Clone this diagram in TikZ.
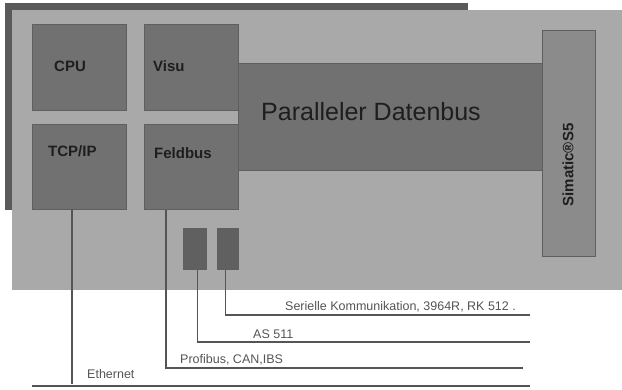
\documentclass[tikz,border=0pt]{standalone}
\usepackage{fontspec}
\setmainfont{Liberation Sans}
\definecolor{panel}{HTML}{A9A9A9}
\definecolor{shadowc}{HTML}{5A5A5A}
\definecolor{boxc}{HTML}{717171}
\definecolor{boxb}{HTML}{5F5F5F}
\definecolor{simc}{HTML}{8B8B8B}
\definecolor{smallc}{HTML}{606060}
\definecolor{linec}{HTML}{555555}
\definecolor{txtc}{HTML}{1E1E1E}
\begin{document}
\begin{tikzpicture}[x=1pt,y=-1pt,
  modbox/.style={draw=boxb,fill=boxc,line width=0.6pt,minimum width=94pt,minimum height=86pt,inner sep=0pt,anchor=north west},
  modtxt/.style={font=\fontsize{15}{17}\selectfont\bfseries,text=txtc,inner sep=0pt},
  conn/.style={draw=linec,line width=1.1pt},
  lbl/.style={font=\fontsize{12.5}{14}\selectfont,text=linec,inner sep=0pt,anchor=west}]
\useasboundingbox (0,0) rectangle (622,389);
\fill[white] (0,0) rectangle (622,389);
% shadow and panel
\fill[shadowc] (5,3) rectangle (468,210);
\fill[panel] (12,10) rectangle (622,290);
% modules
\node[modbox] (cpu) at (32,24) {};
\node[modbox] (visu) at (144,24) {};
\node[modbox,minimum height=85pt] (tcp) at (32,124) {};
\node[modbox,minimum height=85pt] (feld) at (144,124) {};
\node[draw=boxb,fill=boxc,line width=0.6pt,minimum width=304pt,minimum height=107pt,inner sep=0pt,anchor=north west] (bus) at (238,63) {};
\node[draw=boxb,fill=simc,line width=0.6pt,minimum width=53pt,minimum height=226pt,inner sep=0pt,anchor=north west] (sim) at (542,30) {};
\node[draw=boxb,fill=smallc,line width=0.6pt,minimum width=23pt,minimum height=41pt,inner sep=0pt,anchor=north west] (s1) at (183,228) {};
\node[draw=boxb,fill=smallc,line width=0.6pt,minimum width=21pt,minimum height=41pt,inner sep=0pt,anchor=north west] (s2) at (217,228) {};
% texts
\node[modtxt,anchor=west] (tcpu) at (54,66) {CPU};
\node[modtxt,anchor=west] (tvisu) at (153,66) {Visu};
\node[modtxt,anchor=west] (ttcp) at (48,151) {TCP/IP};
\node[modtxt,anchor=west] (tfeld) at (154,153) {Feldbus};
\node[font=\fontsize{25}{28}\selectfont,text=txtc,inner sep=0pt,anchor=west] (tbus) at (261,112) {Paralleler Datenbus};
\node[modtxt,rotate=90] (tsim) at (568,165) {Simatic®S5};
% connector end points
\coordinate (eth0) at (32,386);
\coordinate (eth1) at (530,386);
\coordinate (pb) at (523,368);
\coordinate (as) at (530,342);
\coordinate (ser) at (530,315);
% connectors
\draw[conn] (eth0) -- (eth1);
\draw[conn] ([xshift=40pt]tcp.south west) -- ([xshift=40pt,yshift=2pt]tcp.south west |- eth0);
\draw[conn] ([xshift=22pt]feld.south west) |- (pb);
\draw[conn] ([xshift=2.5pt]s1.south) |- (as);
\draw[conn] ([xshift=-2.5pt]s2.south) |- (ser);
% labels
\node[lbl] (lser) at (285,307) {Serielle Kommunikation, 3964R, RK 512 .};
\node[lbl] (las) at (253,334) {AS 511};
\node[lbl] (lpb) at (180,360) {Profibus, CAN,IBS};
\node[lbl] (leth) at (87,374) {Ethernet};
\end{tikzpicture}
\end{document}
